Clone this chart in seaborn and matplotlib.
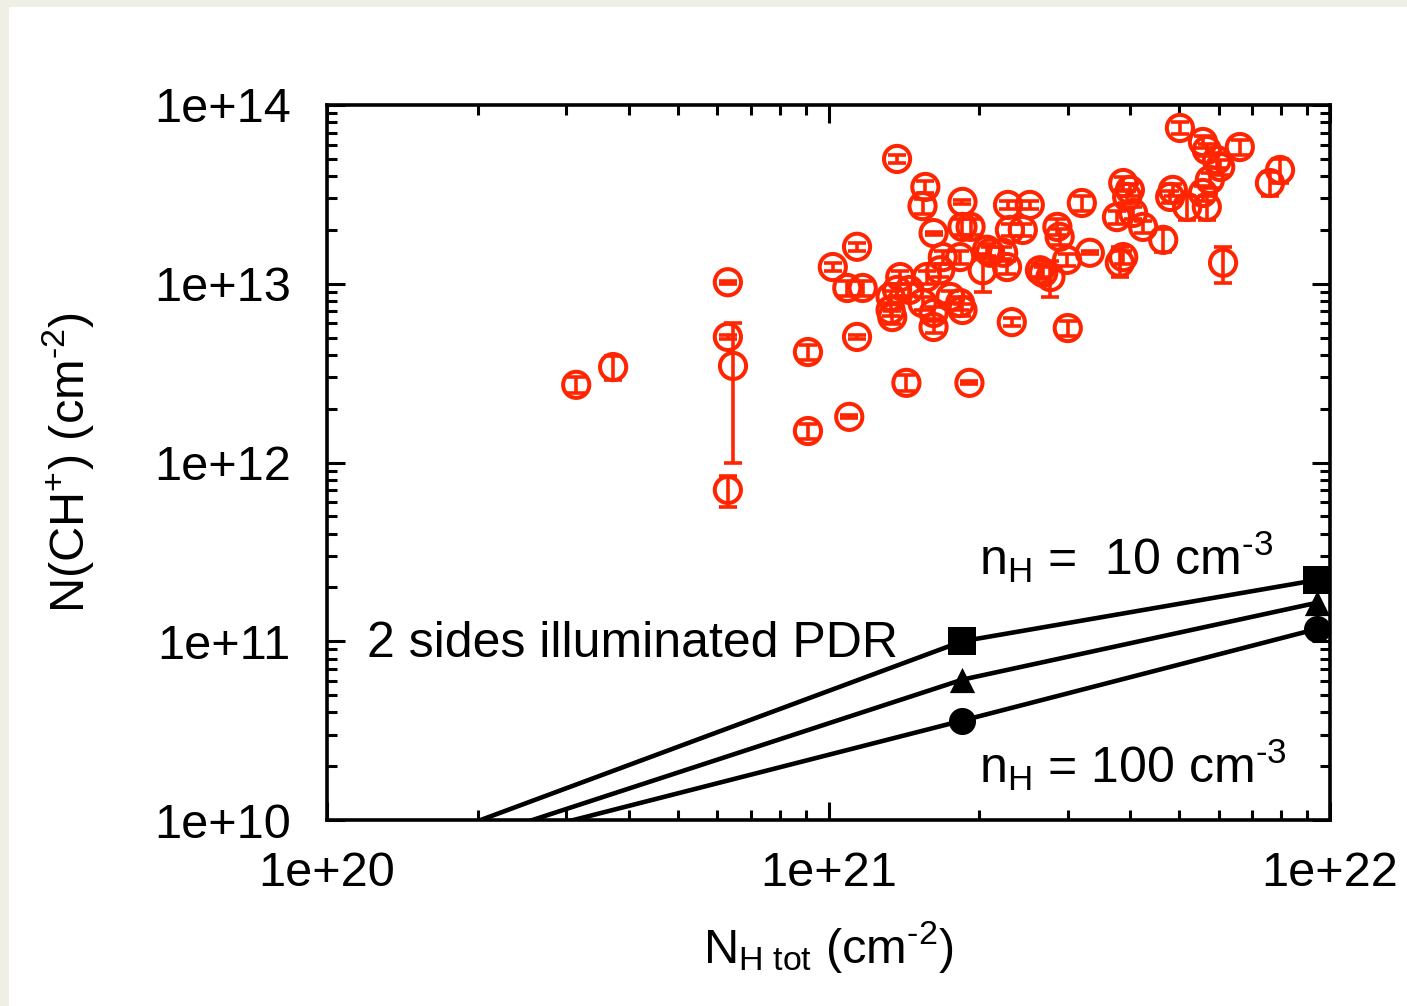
import numpy as np
import pandas as pd
import matplotlib
matplotlib.use("Agg")
import matplotlib.pyplot as plt
import seaborn as sns
from matplotlib.ticker import LogLocator, NullFormatter, FixedLocator, FixedFormatter
from matplotlib.patches import Rectangle

# ---------------- data ----------------
obs_nh = [3.14e20, 3.72e20, 6.30e20, 6.30e20, 6.45e20, 6.30e20, 9.10e20, 9.10e20,
          1.10e21, 1.14e21, 1.02e21, 1.14e21, 1.37e21, 1.56e21, 1.54e21, 1.62e21,
          1.85e21, 1.09e21, 1.17e21, 1.43e21, 1.91e21, 1.85e21, 1.92e21, 2.28e21,
          2.52e21, 3.20e21, 2.30e21, 2.44e21, 2.86e21, 2.89e21, 3.32e21, 2.99e21,
          2.68e21, 2.77e21, 2.27e21, 2.07e21, 2.03e21, 1.83e21, 1.69e21, 1.67e21,
          1.57e21, 1.39e21, 1.37e21, 1.33e21, 1.33e21, 1.34e21, 1.54e21, 1.62e21,
          1.62e21, 1.83e21, 1.85e21, 1.75e21, 1.45e21, 2.32e21, 3.00e21, 2.10e21,
          2.23e21, 2.64e21, 3.81e21, 3.87e21, 5.02e21, 5.58e21, 5.68e21, 6.61e21,
          5.95e21, 6.04e21, 7.95e21, 7.59e21, 3.87e21, 3.94e21, 3.99e21, 4.86e21,
          4.80e21, 5.19e21, 5.58e21, 5.68e21, 5.76e21, 3.76e21, 4.05e21, 4.24e21,
          4.65e21, 6.12e21]
obs_nch = [2.72e12, 3.42e12, 1.02e13, 5.04e12, 3.47e12, 7.02e11, 4.15e12, 1.50e12,
           1.80e12, 5.04e12, 1.24e13, 1.61e13, 4.99e13, 3.48e13, 2.72e13, 1.92e13,
           2.87e13, 9.47e12, 9.47e12, 2.79e12, 2.79e12, 2.08e13, 2.08e13, 2.76e13,
           2.76e13, 2.83e13, 2.00e13, 2.00e13, 2.08e13, 1.83e13, 1.49e13, 1.36e13,
           1.15e13, 1.09e13, 1.24e13, 1.55e13, 1.19e13, 1.41e13, 1.41e13, 1.19e13,
           1.09e13, 1.09e13, 9.23e12, 8.43e12, 7.13e12, 6.51e12, 7.80e12, 6.86e12,
           5.73e12, 7.80e12, 7.13e12, 8.43e12, 9.23e12, 6.10e12, 5.65e12, 1.49e13,
           1.49e13, 1.19e13, 1.31e13, 1.41e13, 7.44e13, 6.21e13, 5.60e13, 5.82e13,
           4.92e13, 4.50e13, 4.33e13, 3.66e13, 3.66e13, 3.06e13, 3.35e13, 3.35e13,
           3.06e13, 2.69e13, 3.22e13, 2.69e13, 3.81e13, 2.36e13, 2.49e13, 2.08e13,
           1.76e13, 1.31e13]
# relative error bars (down, up)
obs_err_dn = [0.10, 0.15, 0.02, 0.02, 0.714, 0.20, 0.10, 0.10,
              0.02, 0.02, 0.05, 0.05, 0.05, 0.08, 0.10, 0.02,
              0.03, 0.10, 0.10, 0.10, 0.02, 0.10, 0.10, 0.05,
              0.05, 0.10, 0.08, 0.08, 0.10, 0.10, 0.02, 0.08,
              0.08, 0.23, 0.08, 0.08, 0.24, 0.08, 0.08, 0.08,
              0.08, 0.08, 0.08, 0.08, 0.08, 0.08, 0.08, 0.08,
              0.08, 0.08, 0.08, 0.08, 0.08, 0.05, 0.10, 0.08,
              0.08, 0.08, 0.17, 0.08, 0.08, 0.08, 0.08, 0.10,
              0.10, 0.10, 0.15, 0.15, 0.08, 0.08, 0.08, 0.08,
              0.08, 0.15, 0.10, 0.15, 0.10, 0.08, 0.08, 0.08,
              0.15, 0.23]
obs_err_up = [0.10, 0.15, 0.02, 0.02, 0.74, 0.20, 0.10, 0.10,
              0.02, 0.02, 0.05, 0.05, 0.05, 0.08, 0.10, 0.02,
              0.03, 0.10, 0.10, 0.10, 0.02, 0.10, 0.10, 0.05,
              0.05, 0.10, 0.08, 0.08, 0.10, 0.10, 0.02, 0.08,
              0.08, 0.23, 0.08, 0.08, 0.24, 0.08, 0.08, 0.08,
              0.08, 0.08, 0.08, 0.08, 0.08, 0.08, 0.08, 0.08,
              0.08, 0.08, 0.08, 0.08, 0.08, 0.05, 0.10, 0.08,
              0.08, 0.08, 0.23, 0.08, 0.08, 0.08, 0.08, 0.10,
              0.10, 0.10, 0.15, 0.15, 0.08, 0.08, 0.08, 0.08,
              0.08, 0.15, 0.10, 0.15, 0.10, 0.08, 0.08, 0.08,
              0.15, 0.23]

model_nh = [1.85e20, 1.85e21, 9.4e21]
model_n10 = [9.1e9, 1.0e11, 2.2e11]      # squares
model_n30 = [7.4e9, 6.1e10, 1.64e11]     # triangles
model_n100 = [6.9e9, 3.6e10, 1.17e11]    # circles

xticks = [1e20, 1e21, 1e22]
xticklabels = ["1e+20", "1e+21", "1e+22"]
yticks = [1e10, 1e11, 1e12, 1e13, 1e14]
yticklabels = ["1e+10", "1e+11", "1e+12", "1e+13", "1e+14"]

RED = "#ff2500"
HY = "\u2010"  # typographic hyphen used in exponents

# ---------------- style ----------------
sns.set_theme(style="ticks")
plt.rcParams["font.family"] = ["Liberation Sans", "DejaVu Sans"]
plt.rcParams["mathtext.fontset"] = "custom"
plt.rcParams["mathtext.rm"] = "Liberation Sans"
plt.rcParams["mathtext.it"] = "Liberation Sans:italic"
plt.rcParams["mathtext.default"] = "regular"
plt.rcParams["text.color"] = "black"
plt.rcParams["axes.labelcolor"] = "black"
plt.rcParams["xtick.labelcolor"] = "black"
plt.rcParams["ytick.labelcolor"] = "black"

W, H = 1407, 1006
fig = plt.figure(figsize=(W / 100, H / 100), dpi=100, facecolor="white")
# beige frame strips (top and left)
fig.patches.append(Rectangle((0, 1 - 7 / H), 1, 7 / H, transform=fig.transFigure,
                             facecolor="#efefe6", edgecolor="none", zorder=-10))
fig.patches.append(Rectangle((0, 0), 9 / W, 1, transform=fig.transFigure,
                             facecolor="#efefe6", edgecolor="none", zorder=-10))

x0, x1, yt, yb = 327, 1330, 105, 820
ax = fig.add_axes([x0 / W, 1 - yb / H, (x1 - x0) / W, (yb - yt) / H])
ax.set_facecolor("white")

# ---------------- observations ----------------
obs = pd.DataFrame({"nh": obs_nh, "nch": obs_nch,
                    "dn": obs_err_dn, "up": obs_err_up})
ax.errorbar(obs["nh"], obs["nch"],
            yerr=[obs["nch"] * obs["dn"], obs["nch"] * obs["up"]],
            fmt="none", ecolor=RED, elinewidth=2.6, capsize=6.5, capthick=2.6,
            zorder=3)
sns.scatterplot(data=obs, x="nh", y="nch", ax=ax, marker="o", s=355,
                facecolor="none", edgecolor=RED, linewidth=2.9, zorder=4,
                legend=False)

# ---------------- models ----------------
models = pd.DataFrame({
    "nh": model_nh * 3,
    "nch": model_n10 + model_n30 + model_n100,
    "model": ["n10"] * 3 + ["n30"] * 3 + ["n100"] * 3,
})
for name, mk, sz in [("n10", "s", 400), ("n30", "^", 330), ("n100", "o", 380)]:
    sub = models[models["model"] == name]
    sns.lineplot(data=sub, x="nh", y="nch", ax=ax, color="black",
                 linewidth=3.3, sort=True, estimator=None, zorder=5, legend=False)
    vis = sub[sub["nch"] >= 1e10]
    sns.scatterplot(data=vis, x="nh", y="nch", ax=ax, marker=mk, s=sz,
                    color="black", edgecolor="black", linewidth=0, zorder=6,
                    legend=False)

# ---------------- axes ----------------
ax.set_xscale("log")
ax.set_yscale("log")
ax.set_xlim(1e20, 1e22)
ax.set_ylim(1e10, 1e14)

ax.xaxis.set_major_locator(FixedLocator(xticks))
ax.xaxis.set_major_formatter(FixedFormatter(xticklabels))
ax.yaxis.set_major_locator(FixedLocator(yticks))
ax.yaxis.set_major_formatter(FixedFormatter(yticklabels))
ax.xaxis.set_minor_locator(LogLocator(base=10, subs=np.arange(2, 10)))
ax.yaxis.set_minor_locator(LogLocator(base=10, subs=np.arange(2, 10)))
ax.xaxis.set_minor_formatter(NullFormatter())
ax.yaxis.set_minor_formatter(NullFormatter())

ax.tick_params(which="both", direction="in", top=True, right=True,
               color="black", width=2.2, labelcolor="black")
ax.tick_params(which="major", length=13, labelsize=35, pad=22)
ax.tick_params(axis="y", which="major", pad=26)
ax.tick_params(which="minor", length=7)
for sp in ax.spines.values():
    sp.set_linewidth(2.6)
    sp.set_color("black")

ax.set_xlabel(r"N$_{\mathrm{H\ tot}}$ (cm$^{" + HY + "2}$)", fontsize=35, color="black")
ax.set_ylabel(r"N(CH$^{+}$) (cm$^{" + HY + "2}$)", fontsize=35, color="black")
ax.xaxis.set_label_coords(0.5, -0.138)
ax.yaxis.set_label_coords(-0.230, 0.5)

ax.text(1.2e20, 8.17e10, "2 sides illuminated PDR", fontsize=36,
        va="baseline", ha="left", color="black", zorder=7)
ax.text(2.0e21, 2.35e11, r"n$_{\mathrm{H}}$ =  10 cm$^{" + HY + "3}$", fontsize=36,
        va="baseline", ha="left", color="black", zorder=7)
ax.text(2.0e21, 1.61e10, r"n$_{\mathrm{H}}$ = 100 cm$^{" + HY + "3}$", fontsize=36,
        va="baseline", ha="left", color="black", zorder=7)

fig.savefig("out.png", dpi=100, facecolor="white")
